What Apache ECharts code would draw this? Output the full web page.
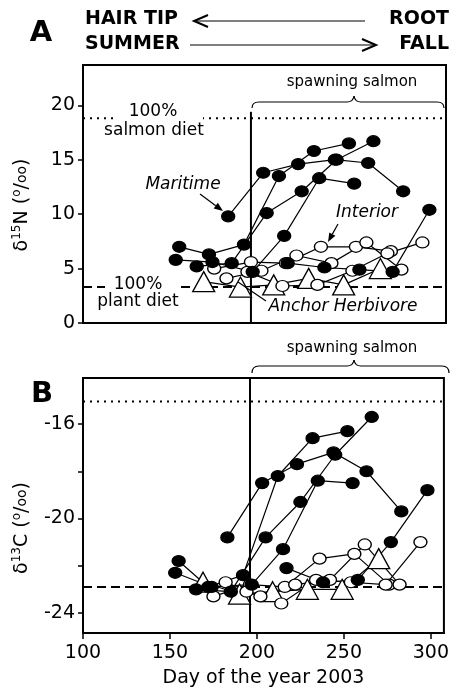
<!DOCTYPE html>
<html>
<head>
<meta charset="utf-8">
<script src="https://cdn.jsdelivr.net/npm/echarts@6/dist/echarts.min.js"></script>
<style>
html, body { margin: 0; padding: 0; background: #fff; }
#chart { width: 452px; height: 694px; }
</style>
</head>
<body>
<div id="chart"></div>
<script>
// day of year for each hair segment, with d15N (panel A) and d13C (panel B)
const m1Days = [183, 203, 223, 244, 263, 283]
const m1N = [9.8, 13.8, 14.6, 15.0, 14.7, 12.1]
const m1C = [-20.8, -18.5, -17.7, -17.2, -18.0, -19.7]

const m2Days = [155, 172, 192, 212, 232, 252]
const m2N = [7.0, 6.3, 7.2, 13.5, 15.8, 16.5]
const m2C = [-21.8, -22.9, -22.4, -18.2, -16.6, -16.3]

const m3Days = [165, 185, 205, 225, 245, 266]
const m3N = [5.2, 5.5, 10.1, 12.1, 15.0, 16.7]
const m3C = [-23.0, -23.1, -20.8, -19.3, -17.3, -15.7]

const m4Days = [153, 174, 197, 215, 235, 255]
const m4N = [5.8, 5.6, 4.7, 8.0, 13.3, 12.8]
const m4C = [-22.3, -22.9, -22.8, -21.3, -18.4, -18.5]

const m5Days = [217, 238, 258, 277, 298]
const m5N = [5.5, 5.1, 4.9, 4.7, 10.4]
const m5C = [-22.1, -22.7, -22.6, -21.0, -18.8]

const i1Days = [175, 196, 216, 236, 256, 276]
const i1N = [5.0, 5.6, 5.5, 7.0, 7.0, 6.6]
const i1C = [-23.3, -22.8, -22.9, -21.7, -21.5, -22.8]

const i2Days = [182, 202, 222, 242, 262, 282]
const i2N = [4.1, 4.8, 6.2, 5.5, 7.4, 4.9]
const i2C = [-22.7, -23.3, -22.8, -22.6, -21.1, -22.8]

const i3Days = [194, 214, 234, 254, 274, 294]
const i3N = [4.7, 3.4, 3.5, 4.8, 6.4, 7.4]
const i3C = [-23.1, -23.6, -22.6, -22.7, -22.8, -21.0]

const hDays = [169, 190, 209, 229, 249, 270]
const hN = [3.8, 3.3, 3.5, 4.1, 3.5, 5.0]
const hC = [-22.7, -23.2, -23.1, -23.0, -23.0, -21.7]

// reference levels
const salmonN = 18.8
const plantN = 3.3
const salmonC = -15.05
const plantC = -22.9
const salmonStart = 196

const xTicks = [100, 150, 200, 250, 300]
const nTicks = [0, 5, 10, 15, 20]
const cTicks = [-24, -22, -20, -18, -16]
const cLabels = [-24, -20, -16]

const FONT = 'DejaVu Sans'
const chart = echarts.init(document.getElementById('chart'))

function pts(days, vals) {
  return days.map((d, i) => [d, vals[i]])
}

function bear(days, vals, idx, kind) {
  let symbol = 'circle', size = [13, 11], fill = '#000'
  if (kind == 'open') fill = '#fff'
  if (kind == 'tri') { symbol = 'triangle'; size = [22, 20]; fill = '#fff' }
  return {
    type: 'line', xAxisIndex: idx, yAxisIndex: idx,
    data: pts(days, vals),
    symbol: symbol, symbolSize: size,
    showAllSymbol: true,
    itemStyle: { color: fill, borderColor: '#000', borderWidth: 1.3 },
    lineStyle: { color: '#000', width: 1.2 },
    z: 4, animation: false, silent: true
  }
}

function refLine(pairs, idx, type, width) {
  return {
    type: 'line', xAxisIndex: idx, yAxisIndex: idx,
    data: pairs, symbol: 'none',
    lineStyle: { color: '#000', width: width, type: type },
    z: 2, animation: false, silent: true
  }
}

const series = [
  refLine([[100, salmonN], [307.5, salmonN]], 0, [2, 5], 2),
  refLine([[100, plantN], [307.5, plantN]], 0, [9, 5], 2),
  refLine([[salmonStart, 0], [salmonStart, 19.4]], 0, 'solid', 2),
  refLine([[100, salmonC], [307.5, salmonC]], 1, [2, 5], 2),
  refLine([[100, plantC], [307.5, plantC]], 1, [9, 5], 2),
  refLine([[salmonStart, -24.85], [salmonStart, -14.05]], 1, 'solid', 2)
]
const groups = [
  [hDays, hN, hC, 'tri'],
  [i1Days, i1N, i1C, 'open'],
  [i2Days, i2N, i2C, 'open'],
  [i3Days, i3N, i3C, 'open'],
  [m1Days, m1N, m1C, 'fill'],
  [m2Days, m2N, m2C, 'fill'],
  [m3Days, m3N, m3C, 'fill'],
  [m4Days, m4N, m4C, 'fill'],
  [m5Days, m5N, m5C, 'fill']
]
groups.forEach(g => {
  series.push(bear(g[0], g[1], 0, g[3]))
  series.push(bear(g[0], g[2], 1, g[3]))
})

function txt(s, x, y, size, opts) {
  opts = opts || {}
  return {
    type: 'text', x: x, y: y, z: 120, rotation: opts.rot || 0,
    style: {
      text: s, fill: '#000',
      font: (opts.style || '') + ' ' + (opts.weight || 'normal') + ' ' + size + 'px "' + FONT + '"',
      align: opts.align || 'center', verticalAlign: 'middle',
      textAlign: opts.align || 'center', textVerticalAlign: 'middle',
      rich: opts.rich
    }
  }
}

function seg(x1, y1, x2, y2, w) {
  return { type: 'line', z: 110, shape: { x1: x1, y1: y1, x2: x2, y2: y2 }, style: { stroke: '#000', lineWidth: w || 1.2 } }
}

function arrow(x1, y1, x2, y2) {
  const a = Math.atan2(y2 - y1, x2 - x1), L = 9, W = 3.5
  const bx = x2 - L * Math.cos(a), by = y2 - L * Math.sin(a)
  return [
    seg(x1, y1, bx, by, 1.2),
    { type: 'polygon', z: 110, shape: { points: [[x2, y2], [bx + W * Math.sin(a), by - W * Math.cos(a)], [bx - W * Math.sin(a), by + W * Math.cos(a)]] }, style: { fill: '#000' } }
  ]
}

function brace(x1, x2, xp, yEnd, yMid, yPeak) {
  const st = { stroke: '#000', lineWidth: 1.2, fill: null }
  return [
    { type: 'bezierCurve', z: 110, shape: { x1: x1, y1: yEnd, cpx1: x1, cpy1: yMid, x2: x1 + 7, y2: yMid }, style: st },
    seg(x1 + 7, yMid, xp - 7, yMid),
    { type: 'bezierCurve', z: 110, shape: { x1: xp - 7, y1: yMid, cpx1: xp - 1, cpy1: yMid, x2: xp, y2: yPeak }, style: st },
    { type: 'bezierCurve', z: 110, shape: { x1: xp, y1: yPeak, cpx1: xp + 1, cpy1: yMid, x2: xp + 7, y2: yMid }, style: st },
    seg(xp + 7, yMid, x2 - 7, yMid),
    { type: 'bezierCurve', z: 110, shape: { x1: x2 - 7, y1: yMid, cpx1: x2, cpy1: yMid, x2: x2, y2: yEnd }, style: st }
  ]
}

function mask(x, y, w, h) {
  return { type: 'rect', z: 100, shape: { x: x, y: y, width: w, height: h }, style: { fill: '#fff' } }
}

const supRich = {
  n: { fontSize: 19, fontFamily: FONT, lineHeight: 22 },
  s: { fontSize: 12, fontFamily: FONT, verticalAlign: 'top', lineHeight: 22 },
  m: { fontSize: 14, fontFamily: FONT, lineHeight: 22 }
}

const graphics = [].concat(
  [
    txt('A', 41, 33, 29, { weight: 'bold' }),
    txt('B', 42, 394, 29, { weight: 'bold' }),
    txt('HAIR TIP', 85, 19, 19, { weight: 'bold', align: 'left' }),
    txt('ROOT', 449, 19, 19, { weight: 'bold', align: 'right' }),
    txt('SUMMER', 85, 44, 19, { weight: 'bold', align: 'left' }),
    txt('FALL', 449, 44, 19, { weight: 'bold', align: 'right' }),
    seg(194, 21, 365, 21, 1.2),
    { type: 'polyline', z: 110, shape: { points: [[208, 15], [194, 21], [208, 27]] }, style: { stroke: '#000', lineWidth: 2, fill: null } },
    seg(190, 45, 376, 45, 1.2),
    { type: 'polyline', z: 110, shape: { points: [[362, 39], [376, 45], [362, 51]] }, style: { stroke: '#000', lineWidth: 2, fill: null } },
    txt('spawning salmon', 352, 82, 15),
    txt('spawning salmon', 352, 348, 15),
    mask(118, 113, 85, 9),
    mask(105, 283, 72, 9),
    txt('100%', 153, 112, 17),
    txt('salmon diet', 154, 131, 17),
    txt('100%', 138, 285, 17),
    txt('plant diet', 138, 302, 17),
    txt('Maritime', 183, 185, 17, { style: 'italic' }),
    txt('Interior', 367, 213, 17, { style: 'italic' }),
    txt('Anchor Herbivore', 343, 307, 17, { style: 'italic' }),
    seg(266, 301, 238, 282, 1.2),
    txt('{n|δ}{s|15}{n|N (}{s|o}{n|/}{m|oo}{n|)}', 22, 205, 19, { rot: Math.PI / 2, rich: supRich }),
    txt('{n|δ}{s|13}{n|C (}{s|o}{n|/}{m|oo}{n|)}', 22, 528, 19, { rot: Math.PI / 2, rich: supRich })
  ],
  arrow(200, 194, 223, 211),
  arrow(338, 224, 328, 242),
  brace(252, 444, 354, 108, 102, 96),
  brace(252, 449, 354, 373, 366, 360)
)

const axisLine = { show: true, lineStyle: { color: '#000', width: 2 } }
const label = { color: '#000', fontSize: 19, fontFamily: FONT }

const option = {
  animation: false,
  grid: [
    { left: 83, top: 65, width: 363, height: 258, show: true, borderColor: '#000', borderWidth: 2 },
    { left: 83, top: 378, width: 363, height: 255, show: true, borderColor: '#000', borderWidth: 2 }
  ],
  xAxis: [
    { type: 'value', gridIndex: 0, min: 100, max: 307.5, axisLine: axisLine, axisTick: { show: false }, axisLabel: { show: false }, splitLine: { show: false } },
    {
      type: 'value', gridIndex: 1, min: 100, max: 307.5, axisLine: axisLine,
      axisTick: { show: true, customValues: xTicks, length: 6, lineStyle: { color: '#000', width: 1.5 } },
      axisLabel: Object.assign({ customValues: xTicks, margin: 11 }, label),
      splitLine: { show: false },
      name: 'Day of the year 2003', nameLocation: 'middle', nameGap: 36,
      nameTextStyle: { color: '#000', fontSize: 19, fontFamily: FONT }
    }
  ],
  yAxis: [
    {
      type: 'value', gridIndex: 0, min: 0, max: 23.7, axisLine: axisLine,
      axisTick: { show: true, customValues: nTicks, length: 5, lineStyle: { color: '#000', width: 1.5 } },
      axisLabel: Object.assign({ customValues: nTicks, margin: 8 }, label),
      splitLine: { show: false }
    },
    {
      type: 'value', gridIndex: 1, min: -24.85, max: -14.05, axisLine: axisLine,
      axisTick: { show: true, customValues: cTicks, length: 5, lineStyle: { color: '#000', width: 1.5 } },
      axisLabel: Object.assign({ customValues: cLabels, margin: 8 }, label),
      splitLine: { show: false }
    }
  ],
  graphic: { elements: graphics },
  series: series
}
chart.setOption(option)
</script>
</body>
</html>
